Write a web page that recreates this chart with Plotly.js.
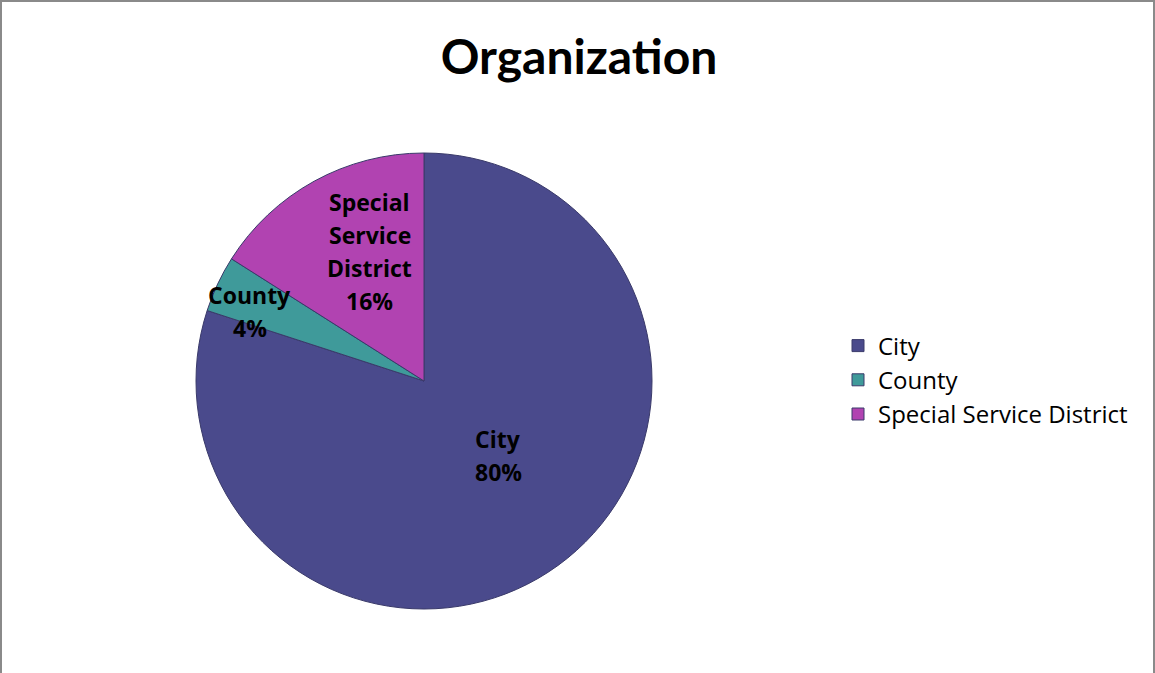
<!DOCTYPE html>
<html>
<head>
<meta charset="utf-8">
<script src="https://cdn.plot.ly/plotly-3.0.1.min.js"></script>
<style>
html,body{margin:0;padding:0;background:#fff;}
#wrap{position:absolute;left:0;top:0;width:1155px;height:673px;box-sizing:border-box;border-left:2px solid #8a8a8a;border-top:2px solid #8a8a8a;border-right:2px solid #8a8a8a;background:#fff;}
#chart{width:1151px;height:671px;}
</style>
</head>
<body>
<div id="wrap"><div id="chart"></div></div>
<script>
const categories = ["City", "County", "Special Service District"];
const values = [80, 4, 16];
const labelLines = [["City"], ["County"], ["Special", "Service", "District"]];
const colors = ["#4a4a8c", "#3f9a9a", "#b143b1"];
const chartTitle = "Organization";

const W = 1151, H = 671;
const cx = 422, cy = 379, R = 228; // pie centre/radius in px (relative to chart div)
// label placement style: radial fraction and angular offset (deg) per slice
const labelRadius = [0.46, 0.823, 0.614];
const labelAngleShift = [-9, -3.3, 6];
const lineGap = 33;
const labelFont = {family: "'Open Sans', Lato, sans-serif", size: 23, color: "#000"};

const total = values.reduce((a, b) => a + b, 0);
const pctText = values.map(v => Math.round(v / total * 100) + "%");

let cum = 0;
const annotations = [];
values.forEach((v, i) => {
  const midDeg = (cum + v / 2) / total * 360 + labelAngleShift[i]; // clockwise from top
  cum += v;
  const mid = midDeg * Math.PI / 180;
  const r = labelRadius[i] * R;
  const px = cx + r * Math.sin(mid);
  const py = cy - r * Math.cos(mid);
  const lines = labelLines[i].concat([pctText[i]]);
  const n = lines.length;
  lines.forEach((ln, k) => {
    annotations.push({
      x: px / W, y: 1 - py / H, xref: "paper", yref: "paper",
      xanchor: "center", yanchor: "middle",
      yshift: -((k - (n - 1) / 2) * lineGap),
      text: "<b>" + ln + "</b>",
      showarrow: false,
      font: labelFont
    });
  });
});

const trace = {
  type: "pie",
  labels: categories,
  values: values,
  textinfo: "none",
  sort: false,
  direction: "clockwise",
  rotation: 0,
  marker: {colors: colors, line: {color: "#3a3a6a", width: 1}},
  domain: {x: [(cx - R) / W, (cx + R) / W], y: [1 - (cy + R) / H, 1 - (cy - R) / H]},
  hoverinfo: "label+percent"
};

const layout = {
  width: W, height: H,
  margin: {l: 0, r: 0, t: 0, b: 0},
  paper_bgcolor: "#fff",
  title: {
    text: "<b>" + chartTitle + "</b>",
    font: {family: "Lato, 'Open Sans', sans-serif", size: 48, color: "#000"},
    x: 577 / W, xref: "paper", xanchor: "center",
    y: 1 - 55 / H, yref: "container", yanchor: "middle"
  },
  showlegend: true,
  legend: {
    x: 836 / W, y: 1 - 378 / H, xanchor: "left", yanchor: "middle",
    font: {family: "'Open Sans', Lato, sans-serif", size: 24, color: "#000"},
    itemwidth: 30,
    traceorder: "normal"
  },
  annotations: annotations
};

Plotly.newPlot("chart", [trace], layout, {displayModeBar: false, responsive: false});
</script>
</body>
</html>
